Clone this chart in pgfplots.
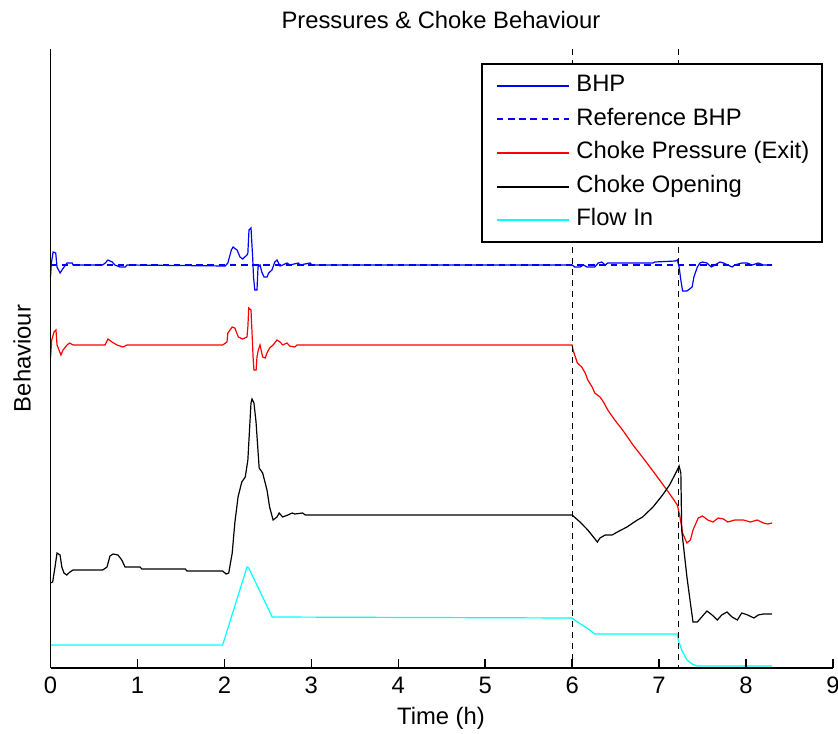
\documentclass[border=0pt]{standalone}
\usepackage{fontspec}
\setmainfont{Liberation Sans}
\usepackage{pgfplots}
\pgfplotsset{compat=1.18}
\newcommand\fsz{\fontsize{11.9}{14.2}\selectfont}
\definecolor{mblue}{rgb}{0,0,1}
\definecolor{mred}{rgb}{1,0,0}
\definecolor{mcyan}{rgb}{0,1,1}
\definecolor{mblack}{rgb}{0,0,0}

\begin{document}
\begin{tikzpicture}
\begin{axis}[
 scale only axis, width=391.25pt, height=309.5pt,
 xmin=0, xmax=9, ymin=-668, ymax=-49,
 axis x line=bottom, axis y line=left,
 axis line style={-, line width=0.75pt},
 xtick={0,...,9}, ytick=\empty,
 tick align=inside, major tick length=4.5pt,
 tick style={line width=0.75pt, black},
 /pgf/number format/assume math mode=true,
 tick label style={font=\fsz},
 xticklabel style={yshift=-1pt},
 xlabel={Time (h)}, ylabel={Behaviour},
 title={Pressures \& Choke Behaviour},
 xlabel style={font=\fsz, at={(axis description cs:0.499,-0.081)}, anchor=center},
 ylabel style={font=\fsz, at={(axis description cs:-0.0364,0.50)}, anchor=center},
 title style={font=\fsz, at={(axis description cs:0.499,1.047)}, anchor=center, yshift=-6pt},
 clip=false, axis on top,
 legend cell align=left,
 legend style={at={(0.9872,0.977)}, anchor=north east, draw=black, line width=0.75pt,
   fill=white, font=\fsz, row sep=0pt, inner xsep=3.5pt, inner ysep=2.5pt,
   nodes={anchor=west, inner ysep=3pt, inner xsep=3pt, text height=8.3pt, text depth=2.5pt}},
 legend image code/.code={\path (0pt,0pt) (40pt,0pt); \draw[#1, line width=1pt] (3.5pt,0pt) -- (39.5pt,0pt);},
]
\addplot[color=mblue, line width=0.6pt] coordinates {
(0,-277) (0.01,-263) (0.03,-252) (0.06,-253) (0.075,-267) (0.11,-273) (0.14,-269) (0.19,-263) (0.25,-263) (0.26,-265)
(0.60,-265) (0.63,-263) (0.66,-260) (0.71,-262) (0.74,-265) (0.80,-267) (0.86,-267) (0.88,-265)
(2.01,-266) (2.04,-263) (2.08,-250) (2.10,-247) (2.145,-250) (2.18,-257) (2.21,-259) (2.26,-255) (2.27,-253)
(2.283,-230) (2.306,-228) (2.325,-257) (2.335,-277) (2.35,-290) (2.375,-290) (2.387,-267) (2.41,-265) (2.43,-272)
(2.456,-277) (2.49,-277) (2.51,-273) (2.547,-270) (2.58,-262) (2.605,-260) (2.64,-266) (2.67,-265) (2.72,-263)
(2.755,-265) (2.85,-263) (2.87,-265) (2.985,-263) (3.01,-265)
(6.00,-265) (6.03,-267) (6.09,-267) (6.13,-265) (6.17,-267) (6.26,-267) (6.30,-263) (6.34,-262) (6.38,-265) (6.41,-263)
(6.93,-263) (6.95,-262) (7.19,-261) (7.21,-260) (7.23,-267) (7.25,-280) (7.27,-291) (7.32,-291) (7.38,-287) (7.40,-277)
(7.44,-267) (7.47,-263) (7.50,-262) (7.55,-263) (7.60,-267) (7.64,-265) (7.70,-262) (7.74,-263) (7.79,-265) (7.84,-267)
(7.87,-265) (7.95,-263) (8.01,-263) (8.07,-265) (8.14,-263) (8.20,-265) (8.30,-265)
};
\addlegendentry{BHP}
\addplot[color=mblue, line width=0.65pt, dash pattern=on 3.3pt off 2.3pt] coordinates {(0,-265) (8.30,-265)};
\addlegendentry{Reference BHP}
\addplot[color=mred, line width=0.6pt] coordinates {
(0,-358) (0.014,-340) (0.04,-332) (0.063,-330) (0.075,-345) (0.098,-350) (0.12,-355) (0.144,-350) (0.19,-345) (0.22,-343)
(0.26,-345) (0.60,-345) (0.627,-345) (0.661,-339) (0.707,-342) (0.765,-345) (0.834,-347) (0.88,-345)
(1.98,-345) (2.03,-342) (2.04,-333) (2.09,-327) (2.12,-328) (2.16,-337) (2.21,-339) (2.26,-337) (2.27,-327)
(2.28,-308) (2.306,-310) (2.318,-333) (2.33,-357) (2.34,-370) (2.365,-370) (2.375,-357) (2.39,-350) (2.41,-345)
(2.44,-357) (2.47,-358) (2.49,-353) (2.52,-348) (2.56,-345) (2.605,-340) (2.64,-342) (2.67,-345) (2.72,-343)
(2.75,-346) (2.81,-347) (2.835,-345)
(6.00,-345) (6.01,-350) (6.06,-363) (6.11,-367) (6.15,-373) (6.18,-380) (6.23,-387) (6.26,-393) (6.32,-397)
(6.36,-402) (6.41,-410) (6.49,-420) (6.58,-430) (6.70,-445) (6.86,-463) (6.98,-477) (7.09,-490) (7.21,-505)
(7.24,-517) (7.27,-533) (7.32,-543) (7.36,-540) (7.39,-530) (7.45,-518) (7.50,-516) (7.56,-520) (7.62,-522)
(7.68,-518) (7.74,-519) (7.79,-522) (7.87,-520) (7.97,-520) (8.05,-522) (8.13,-520) (8.20,-523) (8.25,-524) (8.30,-523)
};
\addlegendentry{Choke Pressure (Exit)}
\addplot[color=mblack, line width=0.6pt] coordinates {
(0,-583) (0.025,-582) (0.052,-567) (0.075,-553) (0.11,-555) (0.13,-567) (0.155,-573) (0.186,-575) (0.224,-572)
(0.26,-570) (0.60,-570) (0.65,-567) (0.684,-556) (0.72,-554) (0.776,-555) (0.82,-560) (0.857,-567) (1.03,-567)
(1.05,-569) (1.55,-569) (1.57,-571) (1.98,-571) (2.02,-574) (2.05,-573) (2.09,-553) (2.12,-523) (2.157,-497)
(2.20,-482) (2.24,-477) (2.27,-460) (2.306,-403) (2.318,-399) (2.34,-403) (2.364,-422) (2.40,-468) (2.44,-473)
(2.49,-490) (2.52,-507) (2.56,-520) (2.605,-517) (2.63,-513) (2.67,-517) (2.73,-515) (2.78,-513) (2.81,-514)
(2.90,-513) (2.93,-515)
(6.00,-515) (6.09,-522) (6.18,-530) (6.29,-542) (6.32,-538) (6.38,-535) (6.46,-535) (6.52,-532) (6.63,-527)
(6.75,-520) (6.81,-517) (6.93,-507) (7.04,-495) (7.12,-485) (7.18,-475) (7.22,-468) (7.23,-466) (7.25,-473)
(7.26,-530) (7.32,-577) (7.36,-603) (7.39,-622) (7.44,-622) (7.49,-617) (7.55,-611) (7.61,-615) (7.67,-620)
(7.72,-615) (7.78,-612) (7.84,-617) (7.90,-620) (7.95,-613) (8.02,-615) (8.09,-618) (8.14,-615) (8.20,-614) (8.30,-614)
};
\addlegendentry{Choke Opening}
\addplot[color=mcyan, line width=0.6pt] coordinates {
(0,-645) (1.98,-645) (2.26,-567) (2.28,-568) (2.55,-617) (6.00,-618) (6.06,-622) (6.17,-628) (6.26,-634)
(7.21,-634) (7.22,-640) (7.26,-650) (7.32,-660) (7.38,-664) (7.44,-666) (8.30,-666)
};
\addlegendentry{Flow In}
\addplot[color=mblack, line width=0.6pt, dash pattern=on 3pt off 2.5pt, forget plot] coordinates {(6,-49) (6,-668)};
\addplot[color=mblack, line width=0.6pt, dash pattern=on 3pt off 2.5pt, forget plot] coordinates {(7.22,-49) (7.22,-668)};
\coordinate (bbsw) at (rel axis cs:-0.06454,-0.10501);
\coordinate (bbne) at (rel axis cs:1.00639,1.07916);
\end{axis}
\pgfresetboundingbox
\useasboundingbox (bbsw) rectangle (bbne);
\end{tikzpicture}
\end{document}
